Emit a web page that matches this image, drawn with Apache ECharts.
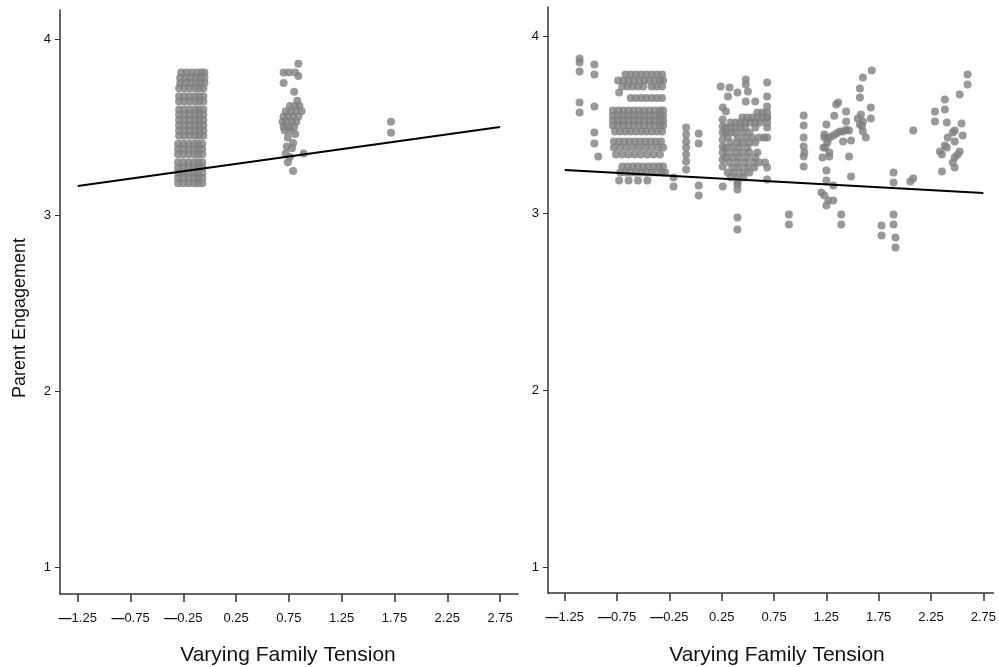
<!DOCTYPE html>
<html>
<head>
<meta charset="utf-8">
<script src="https://cdn.jsdelivr.net/npm/echarts@6.0.0/dist/echarts.min.js"></script>
<style>
  html, body { margin: 0; padding: 0; background: #fff; }
  #chart { width: 999px; height: 667px; }
</style>
</head>
<body>
<div id="chart"></div>
<script>
// tick positions
const xTicks = [-1.25, -0.75, -0.25, 0.25, 0.75, 1.25, 1.75, 2.25, 2.75]
const yTicks = [1, 2, 3, 4]

// fitted lines (x at ends, y at ends)
const fitX = [-1.25, 2.75]
const leftFitY = [3.165, 3.50]
const rightFitY = [3.243, 3.113]

// left panel: dense column near -0.15, rows of [y, xs]
const leftBlockRows = [
  [3.81, [-0.27, -0.22, -0.17, -0.12, -0.08, -0.05]],
  [3.78, [-0.28, -0.23, -0.18, -0.13, -0.09, -0.05]],
  [3.75, [-0.28, -0.23, -0.18, -0.13, -0.09, -0.05]],
  [3.72, [-0.29, -0.24, -0.19, -0.14, -0.10, -0.06]],
  [3.675, [-0.29, -0.24, -0.19, -0.14, -0.10, -0.06]],
  [3.645, [-0.29, -0.24, -0.19, -0.14, -0.10, -0.06]],
  [3.60, [-0.29, -0.24, -0.19, -0.14, -0.10, -0.06]],
  [3.57, [-0.29, -0.24, -0.19, -0.14, -0.10, -0.06]],
  [3.54, [-0.29, -0.24, -0.19, -0.14, -0.10, -0.06]],
  [3.51, [-0.29, -0.24, -0.19, -0.14, -0.10, -0.06]],
  [3.48, [-0.29, -0.24, -0.19, -0.14, -0.10, -0.06]],
  [3.45, [-0.29, -0.24, -0.19, -0.14, -0.10, -0.06]],
  [3.405, [-0.30, -0.25, -0.20, -0.15, -0.11, -0.07]],
  [3.375, [-0.30, -0.25, -0.20, -0.15, -0.11, -0.07]],
  [3.345, [-0.30, -0.25, -0.20, -0.15, -0.11, -0.07]],
  [3.30, [-0.30, -0.25, -0.20, -0.15, -0.11, -0.07]],
  [3.27, [-0.30, -0.25, -0.20, -0.15, -0.11, -0.07]],
  [3.24, [-0.30, -0.25, -0.20, -0.15, -0.11, -0.07]],
  [3.21, [-0.30, -0.25, -0.20, -0.15, -0.11, -0.07]],
  [3.18, [-0.30, -0.25, -0.20, -0.15, -0.11, -0.07]]
]

// left panel: scattered points
const leftPoints = [
  [0.84, 3.86], [0.70, 3.81], [0.75, 3.81], [0.81, 3.81], [0.70, 3.75], [0.84, 3.79],
  [0.80, 3.70], [0.83, 3.65],
  [0.76, 3.62], [0.81, 3.62], [0.85, 3.62],
  [0.72, 3.59], [0.77, 3.59], [0.82, 3.59], [0.87, 3.59],
  [0.70, 3.56], [0.74, 3.56], [0.79, 3.56], [0.84, 3.56],
  [0.69, 3.53], [0.73, 3.53], [0.78, 3.53], [0.82, 3.53],
  [0.70, 3.50], [0.75, 3.50], [0.80, 3.50], [0.71, 3.48], [0.76, 3.48],
  [0.81, 3.46], [0.74, 3.44], [0.79, 3.41], [0.73, 3.39], [0.78, 3.38],
  [0.89, 3.35], [0.72, 3.35], [0.76, 3.33], [0.74, 3.30], [0.79, 3.25],
  [1.717, 3.53], [1.717, 3.467]
]

// right panel: dense block near -0.55
const rightBlockRows = [
  [3.782, [-0.67, -0.62, -0.57, -0.52, -0.47, -0.42, -0.37, -0.32]],
  [3.749, [-0.74, -0.69, -0.64, -0.59, -0.54, -0.49, -0.44, -0.39, -0.34, -0.31]],
  [3.715, [-0.70, -0.65, -0.60, -0.55, -0.50, -0.42, -0.37, -0.32]],
  [3.681, [-0.73]],
  [3.650, [-0.62, -0.57, -0.52, -0.47, -0.42, -0.37, -0.32]],
  [3.579, [-0.79, -0.74, -0.69, -0.64, -0.59, -0.54, -0.49, -0.44, -0.39, -0.34, -0.31]],
  [3.551, [-0.79, -0.74, -0.69, -0.64, -0.59, -0.54, -0.49, -0.44, -0.39, -0.34, -0.31]],
  [3.523, [-0.79, -0.74, -0.69, -0.64, -0.59, -0.54, -0.49, -0.44, -0.39, -0.34, -0.31]],
  [3.494, [-0.79, -0.74, -0.69, -0.64, -0.59, -0.54, -0.49, -0.44, -0.39, -0.34, -0.31]],
  [3.460, [-0.77, -0.72, -0.67, -0.62, -0.57, -0.52, -0.47, -0.42, -0.37, -0.32]],
  [3.404, [-0.78, -0.73, -0.68, -0.63, -0.58, -0.53, -0.48, -0.43, -0.38, -0.33]],
  [3.370, [-0.78, -0.72, -0.66, -0.60, -0.54, -0.48, -0.42, -0.36, -0.31]],
  [3.331, [-0.76, -0.70, -0.64, -0.58, -0.52, -0.46, -0.40, -0.34]],
  [3.263, [-0.70, -0.65, -0.60, -0.55, -0.50, -0.45, -0.40, -0.35, -0.31]],
  [3.229, [-0.72, -0.67, -0.62, -0.57, -0.52, -0.47, -0.42, -0.37, -0.32, -0.29]],
  [3.183, [-0.73, -0.64, -0.55, -0.46]]
]

// right panel: block near 0.45
const rightBlock2Rows = [
  [3.568, [0.59, 0.637, 0.684]],
  [3.540, [0.448, 0.495, 0.542, 0.59, 0.637, 0.684]],
  [3.511, [0.335, 0.382, 0.429, 0.476, 0.524, 0.571, 0.618, 0.684]],
  [3.483, [0.288, 0.335, 0.382, 0.429, 0.476, 0.571, 0.684]],
  [3.455, [0.288, 0.335, 0.382, 0.448, 0.514]],
  [3.427, [0.307, 0.401, 0.476, 0.542, 0.608, 0.656]],
  [3.398, [0.335, 0.401, 0.448, 0.514, 0.571]],
  [3.370, [0.288, 0.354, 0.42, 0.495]],
  [3.342, [0.307, 0.382, 0.448, 0.514, 0.59]],
  [3.314, [0.288, 0.354, 0.42, 0.495, 0.571]],
  [3.285, [0.325, 0.401, 0.476, 0.552, 0.608, 0.665]],
  [3.257, [0.354, 0.42, 0.495, 0.561]],
  [3.229, [0.307, 0.373, 0.448, 0.514]],
  [3.201, [0.335, 0.401, 0.458]],
  [3.172, [0.401]]
]

// right panel: scattered points
const rightPoints = [
  [-1.108, 3.873], [-1.108, 3.85], [-1.108, 3.80], [-1.108, 3.624], [-1.108, 3.568],
  [-0.967, 3.839], [-0.967, 3.782], [-0.967, 3.602], [-0.967, 3.455], [-0.967, 3.393], [-0.93, 3.319],
  [-0.21, 3.20], [-0.21, 3.15],
  [-0.09, 3.483], [-0.09, 3.444], [-0.09, 3.404], [-0.09, 3.370], [-0.09, 3.331], [-0.09, 3.291], [-0.09, 3.246],
  [0.03, 3.449], [0.03, 3.393], [0.03, 3.155], [0.03, 3.099],
  [0.24, 3.715], [0.325, 3.709], [0.40, 3.681], [0.31, 3.658], [0.26, 3.596], [0.29, 3.573],
  [0.48, 3.754], [0.48, 3.726], [0.50, 3.686], [0.48, 3.63], [0.57, 3.63],
  [0.684, 3.737], [0.684, 3.659], [0.684, 3.602], [0.684, 3.54],
  [0.259, 3.528], [0.259, 3.489], [0.259, 3.455], [0.259, 3.415], [0.259, 3.376], [0.259, 3.342], [0.259, 3.302], [0.259, 3.263],
  [0.684, 3.427], [0.684, 3.257], [0.684, 3.189],
  [0.40, 3.161], [0.40, 3.133], [0.40, 2.975], [0.40, 2.907], [0.26, 3.15],
  [0.892, 2.992], [0.892, 2.935],
  [1.033, 3.551], [1.033, 3.494], [1.033, 3.427], [1.033, 3.376], [1.04, 3.342], [1.033, 3.319], [1.033, 3.263],
  [1.25, 3.50], [1.231, 3.444], [1.222, 3.37], [1.212, 3.314], [1.25, 3.24], [1.25, 3.183],
  [1.316, 3.155], [1.203, 3.116], [1.231, 3.099], [1.269, 3.07], [1.25, 3.042], [1.316, 3.07],
  [1.344, 3.613], [1.363, 3.624], [1.325, 3.55], [1.439, 3.574], [1.439, 3.517], [1.467, 3.466],
  [1.486, 3.41], [1.41, 3.46], [1.41, 3.404],
  [1.231, 3.427], [1.26, 3.42], [1.29, 3.43], [1.32, 3.44], [1.35, 3.45], [1.38, 3.46], [1.44, 3.47],
  [1.26, 3.40], [1.24, 3.37],
  [1.278, 3.342], [1.278, 3.319], [1.467, 3.319], [1.486, 3.206], [1.392, 2.992], [1.392, 2.935],
  [1.599, 3.766], [1.684, 3.805], [1.57, 3.703], [1.57, 3.653], [1.675, 3.596], [1.675, 3.534],
  [1.55, 3.534], [1.58, 3.556], [1.60, 3.517], [1.57, 3.50], [1.59, 3.49], [1.599, 3.46], [1.627, 3.427],
  [1.892, 3.229], [1.892, 3.172], [2.052, 3.178], [2.08, 3.195], [2.08, 3.466],
  [1.778, 2.929], [1.778, 2.873], [1.892, 2.992], [1.892, 2.935], [1.91, 2.862], [1.91, 2.805],
  [2.599, 3.782], [2.599, 3.726], [2.524, 3.669], [2.382, 3.641], [2.382, 3.585], [2.288, 3.573],
  [2.288, 3.517], [2.401, 3.511], [2.542, 3.506], [2.476, 3.466], [2.458, 3.455], [2.552, 3.438],
  [2.41, 3.427], [2.476, 3.404], [2.382, 3.381], [2.401, 3.37], [2.335, 3.347], [2.354, 3.331],
  [2.524, 3.347], [2.505, 3.331], [2.476, 3.314], [2.458, 3.285], [2.476, 3.257], [2.354, 3.234]
]

const flatten = (rows) => {
  const out = []
  rows.forEach(([y, xs]) => xs.forEach((x) => out.push([x, y])))
  return out
}

const leftData = flatten(leftBlockRows).concat(leftPoints)
const rightData = flatten(rightBlockRows).concat(flatten(rightBlock2Rows), rightPoints)

const FONT = '"Liberation Sans", Arial, Helvetica, sans-serif'
const AXIS_COLOR = '#333'
const DOT_COLOR = '#7f7f7f'

const xLabelFmt = (v) => {
  const s = Math.abs(v).toFixed(2)
  return v < 0 ? '{m|\u2014}' + s : s
}

const makeX = (gridIndex, min, max) => ({
  type: 'value',
  gridIndex,
  min,
  max,
  splitLine: { show: false },
  axisLine: { onZero: false, lineStyle: { color: AXIS_COLOR, width: 1.5 } },
  axisTick: { customValues: xTicks, length: 8, lineStyle: { color: AXIS_COLOR, width: 1.5 } },
  axisLabel: {
    customValues: xTicks,
    formatter: xLabelFmt,
    margin: 18,
    fontSize: 13,
    fontFamily: FONT,
    color: '#111',
    showMinLabel: true,
    showMaxLabel: true,
    hideOverlap: false,
    rich: { m: { fontSize: 13, fontWeight: 'bold', fontFamily: FONT, color: '#111' } }
  }
})

const makeY = (gridIndex, min, max) => ({
  type: 'value',
  gridIndex,
  min,
  max,
  splitLine: { show: false },
  axisLine: { show: true, onZero: false, lineStyle: { color: AXIS_COLOR, width: 1.5 } },
  axisTick: { show: true, customValues: yTicks, length: 5, lineStyle: { color: AXIS_COLOR, width: 1 } },
  axisLabel: {
    customValues: yTicks,
    margin: 9,
    fontSize: 13,
    fontFamily: FONT,
    color: '#111'
  }
})

const chart = echarts.init(document.getElementById('chart'))
chart.setOption({
  animation: false,
  backgroundColor: '#fff',
  grid: [
    { left: 60, top: 10, width: 458, height: 584 },
    { left: 548, top: 7, width: 451, height: 586 }
  ],
  xAxis: [makeX(0, -1.418, 2.92), makeX(1, -1.41, 2.845)],
  yAxis: [makeY(0, 0.847, 4.165), makeY(1, 0.853, 4.164)],
  graphic: [
    {
      type: 'text',
      x: 288, y: 655,
      style: { text: 'Varying Family Tension', font: '21px ' + FONT, fill: '#111', align: 'center', verticalAlign: 'middle' }
    },
    {
      type: 'text',
      x: 777, y: 655,
      style: { text: 'Varying Family Tension', font: '21px ' + FONT, fill: '#111', align: 'center', verticalAlign: 'middle' }
    },
    {
      type: 'text',
      x: 20, y: 318,
      rotation: Math.PI / 2,
      style: { text: 'Parent Engagement', font: '18px ' + FONT, fill: '#111', align: 'center', verticalAlign: 'middle' }
    }
  ],
  series: [
    {
      type: 'scatter',
      xAxisIndex: 0, yAxisIndex: 0,
      symbolSize: 8,
      itemStyle: { color: DOT_COLOR },
      data: leftData
    },
    {
      type: 'scatter',
      xAxisIndex: 1, yAxisIndex: 1,
      symbolSize: 8,
      itemStyle: { color: DOT_COLOR },
      data: rightData
    },
    {
      type: 'line',
      xAxisIndex: 0, yAxisIndex: 0,
      showSymbol: false,
      z: 5,
      lineStyle: { color: '#000', width: 2 },
      data: fitX.map((x, i) => [x, leftFitY[i]])
    },
    {
      type: 'line',
      xAxisIndex: 1, yAxisIndex: 1,
      showSymbol: false,
      z: 5,
      lineStyle: { color: '#000', width: 2 },
      data: fitX.map((x, i) => [x, rightFitY[i]])
    }
  ]
})
</script>
</body>
</html>
